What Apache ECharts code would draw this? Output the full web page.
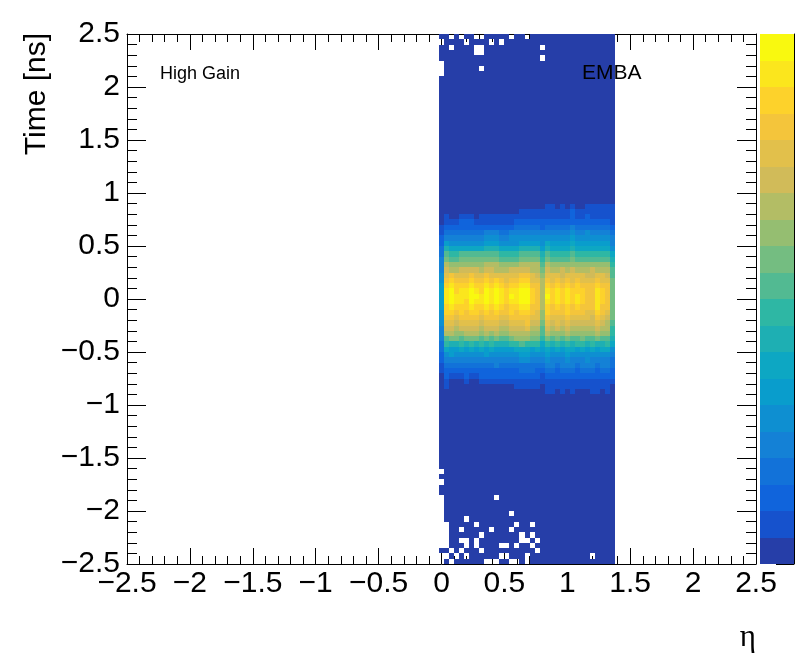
<!DOCTYPE html>
<html>
<head>
<meta charset="utf-8">
<script src="https://cdn.jsdelivr.net/npm/echarts@6/dist/echarts.min.js"></script>
<style>
html,body{margin:0;padding:0;background:#fff;}
#chart{width:796px;height:672px;}
</style>
</head>
<body>
<div id="chart"></div>
<script>
// ---- histogram binning (eta bins centred on multiples of 0.04, time bins of 0.05 ns) ----
const etaFirstEdge = -0.02, etaBinWidth = 0.04, nEtaBins = 35;
const timeFirstEdge = -2.5, timeBinWidth = 0.05, nTimeBins = 100;

// ---- cell contour level per time row (1..9, a..k = 10..20, '.' = empty bin) ----
// rows listed from the top time bin (2.45..2.50) downwards; 35 eta bins per row
const rowsTop = [
  "11.1.11..11111.11.11111111111111111",
  ".1111.1111.1.1111111111111111111111",
  "11.1111..11111111111.11111111111111",
  "1111111..11111111111111111111111111",
  "11111111111111111111.11111111111111",
  ".1111111111111111111111111111111111",
  ".1111111.11111111111111111111111111",
  ".1111111111111111111111111111111111"
];
const rowsUpper = new Array(23).fill("11111111111111111111111111111111111");
const rowsCore = [
  "1 1111111111111111111 1 1111111111111 1",
  "1 1111111111111111111 1 2212121122222 2",
  "1 111111111111111 2222 2 22222 3 2222222 2",
  "1 2112221 22222222 2222 2 22222 3 22 3 2222 2",
  "1 222333 2 2222222 3 3333 3 3333333333333 2",
  "2 33333333333333 44444 3 44444 5 4444444 3",
  "2 44444444 555 44 555555555555 6 55 6 5555 4",
  "3 55555555 666 55 666666666666 7 6666666 5",
  "3 7 6666666 777 6666 7777 6 8 7777 8 7777777 5",
  "4 9 88 88888 999 888 8 9999 7 9 8888 9 8888888 6",
  "4 b a a bbbbb bbb aaaa bbbb 9 b aaaa b aaaaaaa 8",
  "5 c bb ccccc ccc bbbb cccc a c bbbb c bbbbbbb 9",
  "5 e dd ddddd eee dddd eeee b e dddd d ddddddd a",
  "5 feeffffeffeeeffffee c feefefeeefeee b",
  "6 ghggghgghgggggghhgf d gggfggggffggf b",
  "6 hihhhihhihihghhiigg e hghghghggghgg c",
  "7 ijiiijiijijihiijjhh e ihihihihhhihh c",
  "7 jkijjkjikjkjijjkkih e jijijiiihhjih c",
  "7 jkjjjkkjkjkjikjkkih e kijijijihhjih c",
  "7 jkjjikjjkjkjijjkkih e jijijijihhjih c",
  "7 ijiiijiijijihiijjhh e ihihihihhhjhh c",
  "6 iihihiihihihhihiihg d ihhhihhhggihg c",
  "6 hhghhhhghhhgghhhhgg d hggghggggfhgf c",
  "6 ggfggggfgggffggghff c gfgfgfffffgfe b",
  "5 ffeffffefffeefffgee b fefefeeeeefee a",
  "5 eeddeeedededdeeeedd b edddedddddedd a",
  "5 bccbcccbcbcbbcdddcc a cbcbcbbcbbcbb 9",
  "4 a99a9a9a9a999aabaaa 8 a9a9a9aa9a99a 8",
  "4 8778787878777788878 7 8787887878788 6",
  "3 6766666676666667766 6 7666766666666 5",
  "3 5555555555555556655 5 6555655565555 4",
  "2 4444444444544444444 4 5545554555455 4",
  "2 3333333333333334443 3 4434443444344 3",
  "1 3222322333333333333 2 3333333333333 3",
  "1 2111211222222222222 2 2222222222222 2",
  "1 2111111111111122222 1 2222222222222 1",
  "1 1111111111111111111 1 2212121112212 1",
  "1 1111111111111111111 1 1111111111111 1",
  "1 1111111111111111111 1 1111111111111 1"
];
const rowsLower = new Array(12).fill("11111111111111111111111111111111111");
const rowsBottom = [
  ".1111111111111111111111111111111111",
  "11111111111111111111111111111111111",
  ".1111111111111111111111111111111111",
  "11111111111111111111111111111111111",
  "11111111111111111111111111111111111",
  ".1111111111.11111111111111111111111",
  ".1111111111111111111111111111111111",
  ".1111111111111111111111111111111111",
  ".1111111111111.11111111111111111111",
  ".1111.11111111111111111111111111111",
  "..11111.1111111.11.1111111111111111",
  "..11.11111.111.11111111111111111111",
  "..111111.1111111.1.1111111111111111",
  "..11..1.11111111..1.111111111111111",
  "..111.1.1111..1.11.1111111111111111",
  "11.1.111.1111111111.111111111111111",
  "..1.1.111111..111.111111111111.1111",
  ".1.111111...11..1.11111111111111111"
];

// colour scale: 20 contour levels (ROOT kBird)
const contourLevels = [1,2,3,4,5,6,7,8,9,10,11,12,13,14,15,16,17,18,19,20];

const palette = ["#263EA8","#1652CD","#1064DC","#1272D9","#1481D6","#0E8FD1","#099DCC","#0DA7C3",
  "#1EAFB3","#2EB7A4","#52BA92","#74BD81","#95BE71","#B3BD65","#D1BB59","#E2C04B",
  "#F4C53B","#FDD22B","#FBE61D","#F9F90F"];

const allRows = rowsTop.concat(rowsUpper, rowsCore, rowsLower, rowsBottom);
const levelCodes = "0123456789abcdefghijk";
const cells = [];
allRows.forEach((row, r) => {
  const s = row.replace(/\s+/g, "");
  const k = nTimeBins - 1 - r;
  for (let i = 0; i < nEtaBins && i < s.length; i++) {
    const ch = s[i];
    if (ch === ".") continue;
    const lev = levelCodes.indexOf(ch);
    if (lev <= 0) continue;
    cells.push([etaFirstEdge + i * etaBinWidth, timeFirstEdge + k * timeBinWidth, lev]);
  }
});

const FONT = '"Liberation Sans", Arial, Helvetica, sans-serif';
const fmt = v => (v < 0 ? "\u2212" : "") + String(Math.abs(v));

const chart = echarts.init(document.getElementById("chart"), null, {renderer: "canvas"});

const black = {color: "#000", width: 1};
function valueAxis(extra) {
  return Object.assign({
    type: "value", min: -2.5, max: 2.5, interval: 0.5,
    axisLine: {show: true, onZero: false, lineStyle: black},
    splitLine: {show: false},
    minorSplitLine: {show: false}
  }, extra);
}

const option = {
  animation: false,
  backgroundColor: "#fff",
  grid: [
    {left: 127, top: 34, width: 629, height: 530},
    {left: 760, top: 34, width: 34, height: 530}
  ],
  xAxis: [
    valueAxis({gridIndex: 0, position: "bottom",
      axisTick: {show: true, inside: true, length: 16, lineStyle: black},
      minorTick: {show: true, splitNumber: 5, length: 8, lineStyle: black},
      axisLabel: {show: true, color: "#000", fontSize: 30, fontFamily: FONT, margin: 5, formatter: fmt}
    }),
    valueAxis({gridIndex: 0, position: "top",
      axisTick: {show: true, inside: true, length: 16, lineStyle: black},
      minorTick: {show: true, splitNumber: 5, length: 8, lineStyle: black},
      axisLabel: {show: false}
    }),
    {gridIndex: 1, type: "value", min: 0, max: 1, show: false}
  ],
  yAxis: [
    valueAxis({gridIndex: 0, position: "left",
      axisTick: {show: true, inside: true, length: 19, lineStyle: black},
      minorTick: {show: true, splitNumber: 5, length: 10, lineStyle: black},
      axisLabel: {show: true, color: "#000", fontSize: 30, fontFamily: FONT, margin: 7,
        padding: [8, 0, 0, 0], formatter: fmt}
    }),
    valueAxis({gridIndex: 0, position: "right",
      axisTick: {show: true, inside: true, length: 19, lineStyle: black},
      minorTick: {show: true, splitNumber: 5, length: 10, lineStyle: black},
      axisLabel: {show: false}
    }),
    {gridIndex: 1, type: "value", min: 0, max: contourLevels.length, position: "left", show: false},
    {gridIndex: 1, type: "value", min: 0, max: 530 / 67, interval: 1, position: "right",
      axisLine: {show: true, onZero: false, lineStyle: black},
      axisTick: {show: true, inside: true, length: 18, lineStyle: black},
      axisLabel: {show: false}, splitLine: {show: false}}
  ],
  series: [
    {
      type: "custom", xAxisIndex: 0, yAxisIndex: 0, silent: true, clip: true, z: 1,
      data: cells,
      encode: {x: 0, y: 1},
      renderItem: function (params, api) {
        const x0 = api.value(0), y0 = api.value(1);
        const p0 = api.coord([x0, y0 + timeBinWidth]);
        const p1 = api.coord([x0 + etaBinWidth, y0]);
        const l = Math.round(p0[0]), t = Math.round(p0[1]);
        const r = Math.round(p1[0]), b = Math.round(p1[1]);
        return {type: "rect", shape: {x: l, y: t, width: r - l, height: b - t},
          style: {fill: palette[api.value(2) - 1]}};
      }
    },
    {
      type: "custom", xAxisIndex: 2, yAxisIndex: 2, silent: true, z: 1,
      data: contourLevels.map(l => [0, l - 1, l]),
      encode: {x: 0, y: 1},
      renderItem: function (params, api) {
        const lv = api.value(1);
        const p0 = api.coord([0, lv + 1]);
        const p1 = api.coord([1, lv]);
        const l = Math.round(p0[0]), t = Math.round(p0[1]);
        const r = Math.round(p1[0]), b = Math.round(p1[1]);
        return {type: "rect", shape: {x: l, y: t, width: r - l, height: b - t},
          style: {fill: palette[api.value(2) - 1]}};
      }
    }
  ],
  graphic: {elements: [
    {type: "text", x: 37, y: 33, rotation: Math.PI / 2, z: 100,
      style: {text: "Time [ns]", font: "30px " + FONT, fill: "#000", align: "right", verticalAlign: "middle"}},
    {type: "text", x: 756, y: 638, z: 100,
      style: {text: "\u03b7", font: '31px "Liberation Serif", "DejaVu Serif", serif', fill: "#000", align: "right", verticalAlign: "middle"}},
    {type: "text", x: 160, y: 74, z: 100,
      style: {text: "High Gain", font: "18px " + FONT, fill: "#000", align: "left", verticalAlign: "middle"}},
    {type: "text", x: 582, y: 73, z: 100,
      style: {text: "EMBA", font: "21px " + FONT, fill: "#000", align: "left", verticalAlign: "middle"}}
  ]}
};
chart.setOption(option);
</script>
</body>
</html>
